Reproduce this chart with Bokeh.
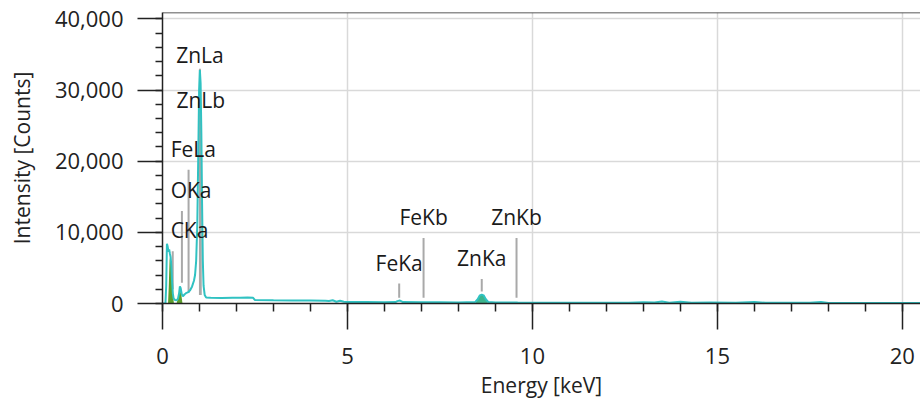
from bokeh.plotting import figure
from bokeh.models import (ColumnDataSource, Range1d, SingleIntervalTicker,
                          NumeralTickFormatter, LabelSet, Span, Title)
from bokeh.core.properties import value
from bokeh.embed import file_html
from bokeh.resources import INLINE

# EDS spectrum: energy [keV] vs intensity [counts]
spectrum_kev = [0.00, 0.08, 0.10, 0.12, 0.14, 0.16, 0.18, 0.20, 0.22, 0.24, 0.26, 0.28,
                0.30, 0.34, 0.38, 0.42, 0.45, 0.47, 0.49, 0.52, 0.55, 0.60, 0.65, 0.70,
                0.75, 0.80, 0.85, 0.88, 0.91, 0.94, 0.97, 0.99, 1.01, 1.03, 1.05, 1.07,
                1.09, 1.11, 1.14, 1.18, 1.30, 1.60, 1.90, 2.10, 2.30, 2.45, 2.50, 3.00,
                3.50, 4.00, 4.40, 4.50, 4.60, 4.70, 4.80, 4.90, 5.00, 5.50, 6.00, 6.30,
                6.35, 6.42, 6.50, 7.00, 7.50, 8.00, 8.45, 8.52, 8.58, 8.63, 8.68, 8.74,
                8.81, 9.00, 9.60, 10.0, 11.0, 12.0, 12.6, 13.0, 13.3, 13.5, 13.7, 14.0,
                14.3, 14.8, 15.5, 16.0, 16.3, 17.5, 17.8, 18.0, 19.0, 20.5]
spectrum_counts = [0, 0, 2500, 8400, 8000, 7300, 7600, 7000, 6500, 5200, 3000, 1400,
                   700, 500, 450, 700, 1500, 2400, 2200, 1300, 1000, 1300, 1500, 1600,
                   1900, 2400, 3200, 4000, 6000, 11000, 22000, 30000, 32800, 31000, 24000, 14000,
                   6000, 2500, 1200, 850, 800, 780, 820, 800, 830, 800, 480, 450,
                   430, 420, 400, 350, 450, 250, 380, 250, 220, 200, 180, 200,
                   330, 420, 200, 170, 160, 150, 200, 600, 1150, 1250, 1150, 600,
                   200, 150, 130, 120, 110, 100, 120, 180, 150, 280, 120, 260,
                   110, 150, 100, 200, 100, 90, 220, 80, 70, 60]

# Highlighted regions of interest under the peaks
c_roi_kev = [0.15, 0.17, 0.19, 0.21, 0.23, 0.25, 0.27, 0.29, 0.31]
c_roi_counts = [0, 2500, 6000, 6800, 5800, 4000, 2000, 800, 0]
o_roi_kev = [0.38, 0.42, 0.45, 0.48, 0.51, 0.54]
o_roi_counts = [0, 800, 1500, 1800, 1200, 0]
zn_roi_kev = [8.45, 8.52, 8.58, 8.63, 8.68, 8.74, 8.81]
zn_roi_counts = [0, 600, 1150, 1250, 1150, 600, 0]

# Element line markers
line_names = ["CKa", "OKa", "FeLa", "ZnLa", "ZnLb", "FeKa", "FeKb", "ZnKa", "ZnKb"]
line_kev = [0.277, 0.525, 0.705, 1.012, 1.034, 6.398, 7.057, 8.630, 9.570]
line_top = [7350, 13000, 18800, 33000, 25600, 2800, 9200, 3450, 9200]
line_base = [2000, 2900, 1500, 1200, 1200, 800, 800, 1700, 800]

FONT = "Open Sans"
TEAL = "#30c2c2"
INK = "#222222"
Y_TOP = 40900

p = figure(width=920, height=406, output_backend="svg", toolbar_location=None,
           x_range=Range1d(0, 20.49), y_range=Range1d(0, Y_TOP),
           min_border_left=162, min_border_right=0, min_border_top=12,
           min_border_bottom=103)
p.outline_line_color = None
p.background_fill_color = "white"
p.border_fill_color = "white"

# axes
xa = p.xaxis[0]
xa.ticker = SingleIntervalTicker(interval=5, num_minor_ticks=5)
ya = p.yaxis[0]
ya.ticker = SingleIntervalTicker(interval=10000, num_minor_ticks=5)
ya.formatter = NumeralTickFormatter(format="0,0")
for ax in (xa, ya):
    ax.axis_line_color = INK
    ax.axis_line_width = 1.5
    ax.major_tick_line_color = INK
    ax.major_tick_line_width = 1.5
    ax.minor_tick_line_color = INK
    ax.minor_tick_line_width = 1.5
    ax.major_tick_in = 0
    ax.minor_tick_in = 0
    ax.major_label_text_font = FONT
    ax.major_label_text_font_size = "22px"
    ax.major_label_text_color = INK
xa.major_tick_out = 26
xa.minor_tick_out = 8
xa.major_label_standoff = 18
ya.major_tick_out = 25
ya.minor_tick_out = 7
ya.major_label_standoff = 14
ya.axis_label = "Intensity [Counts]"
ya.axis_label_text_font = FONT
ya.axis_label_text_font_size = "21px"
ya.axis_label_text_font_style = "normal"
ya.axis_label_text_color = INK
ya.axis_label_standoff = 16

# x-axis title
p.add_layout(Title(text="Energy [keV]", align="center", standoff=4,
                   text_font=FONT, text_font_size="21px", text_font_style="normal",
                   text_color=INK), "below")

# top border line
p.add_layout(Span(location=Y_TOP, dimension="width", line_color=INK, line_width=1.5))

p.xgrid.grid_line_color = "#d9d9d9"
p.xgrid.grid_line_width = 1.5
p.ygrid.grid_line_color = "#d9d9d9"
p.ygrid.grid_line_width = 1.5

# element markers
markers = ColumnDataSource(dict(name=line_names, kev=line_kev, top=line_top, base=line_base,
                                lx=[0.22 if e < 0.9 else e for e in line_kev],
                                align=["left" if e < 0.9 else "center" for e in line_kev],
                                dy=[0 if n == "ZnLa" else 7 for n in line_names]))
p.segment(x0="kev", y0="base", x1="kev", y1="top", source=markers,
          line_color="#a9a9a9", line_width=2)

# ROI fills and spectrum
p.varea(x=c_roi_kev, y1=0, y2=c_roi_counts, fill_color="#5c9e2c")
p.varea(x=o_roi_kev, y1=0, y2=o_roi_counts, fill_color="#5c9e2c")
p.varea(x=zn_roi_kev, y1=0, y2=zn_roi_counts, fill_color="#3cb48c")
p.line(spectrum_kev, spectrum_counts, line_color=TEAL, line_width=2)

labels = LabelSet(x="lx", y="top", text="name", source=markers, text_align="align",
                  text_baseline="bottom", y_offset="dy", text_font=value(FONT),
                  text_font_size=value("21px"), text_color="#1a1a1a")
p.add_layout(labels)

open("out.html", "w").write(file_html(p, INLINE))
